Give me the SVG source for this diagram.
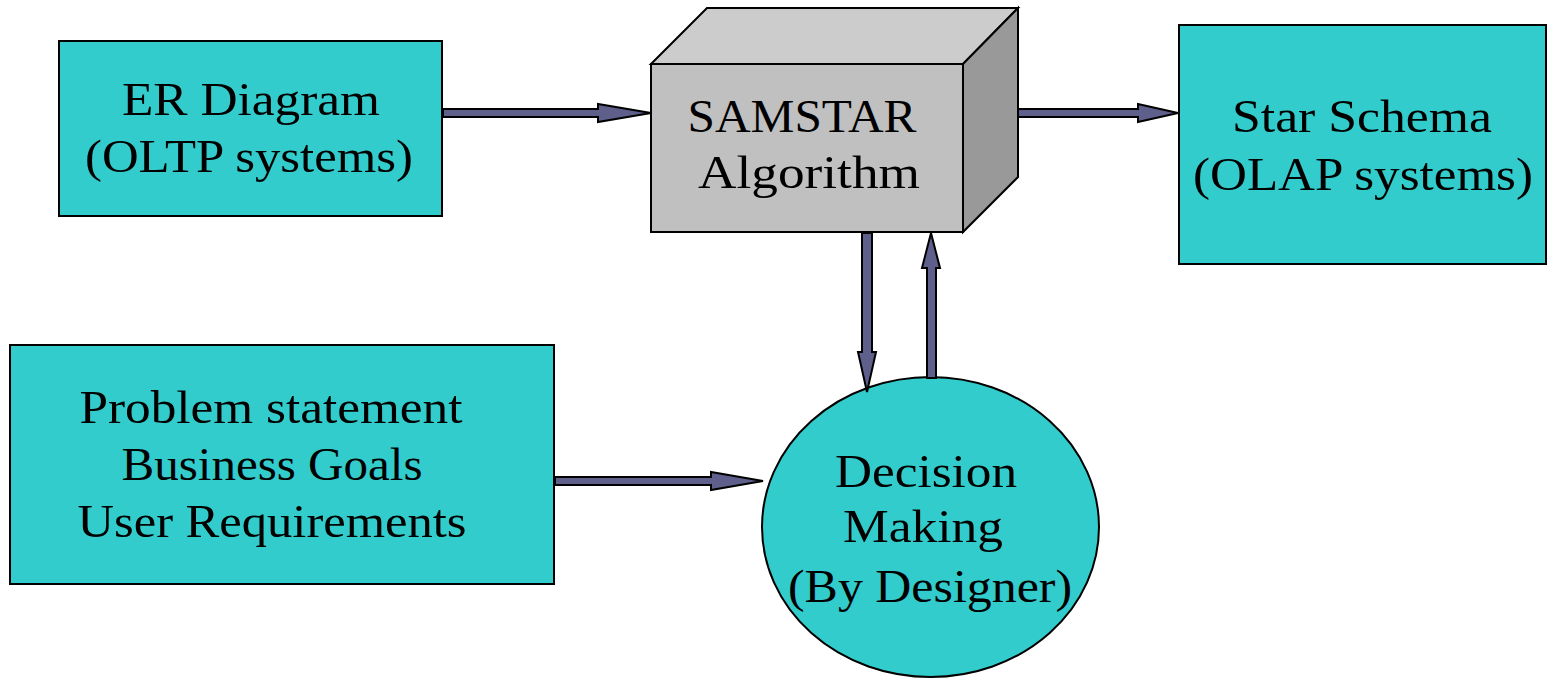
<svg xmlns="http://www.w3.org/2000/svg" width="1547" height="679" viewBox="0 0 1547 679">
  <style>
    .box { fill: #33CCCC; stroke: #000; stroke-width: 2; }
    .cube { stroke: #000; stroke-width: 2; stroke-linejoin: miter; }
    .lbl { font-family: "Liberation Serif", "Times New Roman", serif; font-size: 46px; fill: #000; text-anchor: middle; }
    .arrow { fill: #5F5F8C; stroke: #000; stroke-width: 2; stroke-linejoin: miter; }
  </style>
  <rect width="1547" height="679" fill="#fff"/>

  <g id="er-diagram">
    <rect class="box" x="59" y="41" width="383" height="175"/>
    <text class="lbl" x="251" y="115" textLength="258" lengthAdjust="spacingAndGlyphs">ER Diagram</text>
    <text class="lbl" x="249" y="172" textLength="328" lengthAdjust="spacingAndGlyphs">(OLTP systems)</text>
  </g>

  <g id="samstar">
    <polygon class="cube" fill="#CCCCCC" points="651,64 707,8 1018,8 963,64"/>
    <polygon class="cube" fill="#999999" points="963,64 1018,8 1018,177 963,232"/>
    <rect class="cube" fill="#C0C0C0" x="651" y="64" width="312" height="168"/>
    <text class="lbl" x="802" y="132" textLength="229" lengthAdjust="spacingAndGlyphs">SAMSTAR</text>
    <text class="lbl" x="809" y="188" textLength="222" lengthAdjust="spacingAndGlyphs">Algorithm</text>
  </g>

  <g id="star-schema">
    <rect class="box" x="1179" y="25" width="367" height="239"/>
    <text class="lbl" x="1362" y="132" textLength="260" lengthAdjust="spacingAndGlyphs">Star Schema</text>
    <text class="lbl" x="1363" y="190" textLength="340" lengthAdjust="spacingAndGlyphs">(OLAP systems)</text>
  </g>

  <g id="requirements">
    <rect class="box" x="10" y="345" width="544" height="239"/>
    <text class="lbl" x="271" y="423" textLength="383" lengthAdjust="spacingAndGlyphs">Problem statement</text>
    <text class="lbl" x="272" y="480" textLength="301" lengthAdjust="spacingAndGlyphs">Business Goals</text>
    <text class="lbl" x="272" y="537" textLength="389" lengthAdjust="spacingAndGlyphs">User Requirements</text>
  </g>

  <g id="decision-making">
    <ellipse class="box" cx="930.5" cy="527" rx="168.5" ry="150"/>
    <text class="lbl" x="926" y="487" textLength="182" lengthAdjust="spacingAndGlyphs">Decision</text>
    <text class="lbl" x="923" y="542" textLength="160" lengthAdjust="spacingAndGlyphs">Making</text>
    <text class="lbl" x="930" y="602" textLength="284" lengthAdjust="spacingAndGlyphs">(By Designer)</text>
  </g>

  <g id="connectors">
    <polygon class="arrow" points="443,109 598,109 598,104 651,113 598,122 598,117 443,117"/>
    <polygon class="arrow" points="1018,109 1138,109 1138,104 1178,113 1138,122 1138,117 1018,117"/>
    <polygon class="arrow" points="555,477 711,477 711,472 763,481 711,490 711,485 555,485"/>
    <polygon class="arrow" points="862,233 872,233 872,352 876,352 867,392 858,352 862,352"/>
    <polygon class="arrow" points="927,378 927,268 922,268 931,233 940,268 936,268 936,378"/>
  </g>
</svg>
